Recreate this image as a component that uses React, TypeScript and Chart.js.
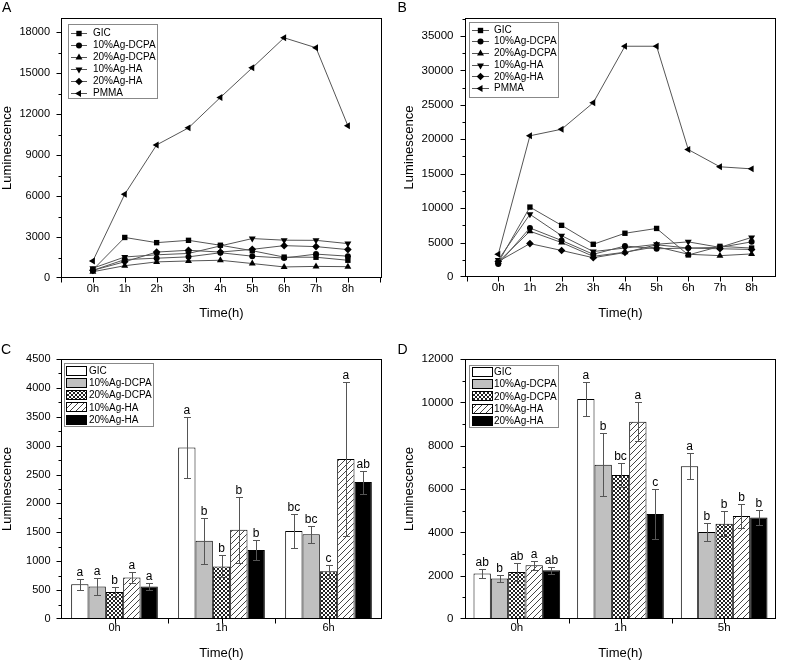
import React, { useEffect, useRef } from "react";
import { Chart, registerables } from "chart.js";
Chart.register(...registerables);

const FONT = '"Liberation Sans", Arial, Helvetica, sans-serif';
Chart.defaults.font.family = FONT;
Chart.defaults.color = "#000";

// ---------- Panel A / B data (line charts) ----------
const hourLabels = ["0h", "1h", "2h", "3h", "4h", "5h", "6h", "7h", "8h"];
const lineSeriesNames = ["GIC", "10%Ag-DCPA", "20%Ag-DCPA", "10%Ag-HA", "20%Ag-HA", "PMMA"];

const aGIC = [600, 2970, 2590, 2760, 2400, 2000, 1530, 1520, 1300];
const a10DCPA = [560, 1350, 1450, 1550, 1850, 1600, 1460, 1750, 1600];
const a20DCPA = [460, 900, 1180, 1250, 1300, 1060, 810, 850, 830];
const a10HA = [720, 1540, 1700, 1800, 2350, 2890, 2770, 2760, 2520];
const a20HA = [560, 1190, 1900, 2030, 1900, 2100, 2370, 2300, 2080];
const aPMMA = [1250, 6140, 9750, 11000, 13230, 15400, 17600, 16870, 11150];

const bGIC = [2100, 10150, 7500, 4750, 6350, 7050, 3200, 4450, 4200];
const b10DCPA = [1870, 7120, 5300, 3300, 4500, 4100, 4200, 4300, 5100];
const b20DCPA = [2170, 6650, 5000, 3000, 3600, 4400, 3300, 3100, 3350];
const b10HA = [2480, 9100, 6000, 3700, 4200, 4750, 5100, 4300, 5750];
const b20HA = [2250, 4850, 3850, 2800, 3550, 4680, 4200, 4100, 4000];
const bPMMA = [3300, 20500, 21450, 25300, 33500, 33500, 18500, 16000, 15700];

// ---------- Panel C / D data (bar charts) ----------
const barSeriesNames = ["GIC", "10%Ag-DCPA", "20%Ag-DCPA", "10%Ag-HA", "20%Ag-HA"];

const cCategories = ["0h", "1h", "6h"];
const cGIC = [603, 2970, 1525];
const c10DCPA = [563, 1355, 1466];
const c20DCPA = [466, 910, 825];
const c10HA = [718, 1546, 2770];
const c20HA = [563, 1195, 2370];
const cGICErr = [95, 530, 300];
const c10DCPAErr = [140, 400, 150];
const c20DCPAErr = [80, 190, 110];
const c10HAErr = [90, 570, 1340];
const c20HAErr = [57, 180, 200];
const cGICLetters = ["a", "a", "bc"];
const c10DCPALetters = ["a", "b", "bc"];
const c20DCPALetters = ["b", "b", "c"];
const c10HALetters = ["a", "b", "a"];
const c20HALetters = ["a", "b", "ab"];

const dCategories = ["0h", "1h", "5h"];
const dGIC = [2100, 10150, 7050];
const d10DCPA = [1870, 7120, 4020];
const d20DCPA = [2170, 6650, 4400];
const d10HA = [2480, 9100, 4750];
const d20HA = [2250, 4850, 4680];
const dGICErr = [200, 800, 600];
const d10DCPAErr = [150, 1460, 430];
const d20DCPAErr = [400, 560, 580];
const d10HAErr = [220, 900, 560];
const d20HAErr = [150, 1150, 330];
const dGICLetters = ["ab", "a", "a"];
const d10DCPALetters = ["b", "b", "b"];
const d20DCPALetters = ["ab", "bc", "b"];
const d10HALetters = ["a", "a", "b"];
const d20HALetters = ["ab", "c", "b"];

// ---------- styles ----------
const lineMarkers = [
  { style: "rect", rot: 0, r: 3.8 },
  { style: "circle", rot: 0, r: 3 },
  { style: "triangle", rot: 0, r: 4 },
  { style: "triangle", rot: 180, r: 4 },
  { style: "rectRot", rot: 0, r: 3.8 },
  { style: "triangle", rot: 270, r: 4 },
];

const W = 394;
const H = 331;

function drawMarker(ctx: CanvasRenderingContext2D, style: string, rotDeg: number, r: number, x: number, y: number) {
  ctx.beginPath();
  let rad = (rotDeg * Math.PI) / 180;
  if (style === "circle") {
    ctx.arc(x, y, r, 0, Math.PI * 2);
  } else if (style === "rect") {
    const s = Math.SQRT1_2 * r;
    ctx.rect(x - s, y - s, 2 * s, 2 * s);
  } else if (style === "rectRot") {
    ctx.moveTo(x, y - r);
    ctx.lineTo(x + r, y);
    ctx.lineTo(x, y + r);
    ctx.lineTo(x - r, y);
    ctx.closePath();
  } else {
    ctx.moveTo(x + Math.sin(rad) * r, y - Math.cos(rad) * r);
    rad += (2 * Math.PI) / 3;
    ctx.lineTo(x + Math.sin(rad) * r, y - Math.cos(rad) * r);
    rad += (2 * Math.PI) / 3;
    ctx.lineTo(x + Math.sin(rad) * r, y - Math.cos(rad) * r);
    ctx.closePath();
  }
  ctx.fill();
}

type LegendSpec = {
  kind: "line" | "bar";
  x: number; y: number; w: number; h: number;
  row0: number; rowH: number;
  sampleX: number; sampleW: number; swH: number; textX: number;
};

type PanelSpec = {
  letter: string; letterX: number; letterY: number;
  yTitleX: number; xTitleY: number;
  yMax: number; yMajor: number; yMinor: number;
  yLabelPad: number; tickFont: number;
  xKind: "linear" | "category";
  legend: LegendSpec;
  errors?: number[][];
  letters?: string[][];
};

function makePanelPlugin(spec: PanelSpec) {
  return {
    id: "panel" + spec.letter,
    afterDatasetsDraw(chart: any) {
      if (!spec.errors) return;
      const ctx: CanvasRenderingContext2D = chart.ctx;
      const ys = chart.scales.y;
      ctx.save();
      ctx.strokeStyle = "#555";
      ctx.lineWidth = 1;
      ctx.fillStyle = "#000";
      ctx.font = "12px " + FONT;
      ctx.textAlign = "center";
      ctx.textBaseline = "alphabetic";
      chart.data.datasets.forEach((ds: any, d: number) => {
        const meta = chart.getDatasetMeta(d);
        meta.data.forEach((el: any, i: number) => {
          const v = ds.data[i];
          const e = spec.errors![d][i];
          const x = Math.round(el.x) + 0.5;
          const yt = Math.round(ys.getPixelForValue(v + e)) + 0.5;
          const yb = Math.round(ys.getPixelForValue(v - e)) + 0.5;
          ctx.beginPath();
          ctx.moveTo(x, yt);
          ctx.lineTo(x, yb);
          ctx.moveTo(x - 3.5, yt);
          ctx.lineTo(x + 3.5, yt);
          ctx.moveTo(x - 3.5, yb);
          ctx.lineTo(x + 3.5, yb);
          ctx.stroke();
          if (spec.letters) ctx.fillText(spec.letters[d][i], el.x, yt - 3.5);
        });
      });
      ctx.restore();
    },
    afterDraw(chart: any) {
      const ctx: CanvasRenderingContext2D = chart.ctx;
      const ca = chart.chartArea;
      const xs = chart.scales.x;
      const ys = chart.scales.y;
      ctx.save();
      ctx.strokeStyle = "#000";
      ctx.lineWidth = 1;
      const L = Math.round(ca.left) + 0.5;
      const R = Math.round(ca.right) - 0.5;
      const T = Math.round(ca.top) + 0.5;
      const B = Math.round(ca.bottom) - 0.5;
      ctx.strokeRect(L, T, R - L, B - T);
      ctx.beginPath();
      // y ticks (major + minor) and major labels, positioned by the y scale
      const yLabels: { v: number; y: number }[] = [];
      for (let v = 0; v <= spec.yMax + 1e-6; v += spec.yMinor) {
        const major = Math.abs(v / spec.yMajor - Math.round(v / spec.yMajor)) < 1e-6;
        const len = major ? 5 : 3;
        const y = Math.min(B, Math.round(ys.getPixelForValue(v)) + 0.5);
        ctx.moveTo(L - len, y);
        ctx.lineTo(L, y);
        if (major) yLabels.push({ v, y: ys.getPixelForValue(v) });
      }
      // x ticks
      if (spec.xKind === "linear") {
        for (let i = Math.ceil(xs.min - 0.1); i <= Math.floor(xs.max); i++) {
          let x = Math.round(xs.getPixelForValue(i)) + 0.5;
          x = Math.max(L, Math.min(R, x));
          ctx.moveTo(x, B);
          ctx.lineTo(x, B + 5);
        }
      } else {
        const n = chart.data.labels.length;
        const cw = (ca.right - ca.left) / n;
        for (let i = 0; i < n; i++) {
          const cx = Math.round(xs.getPixelForValue(i)) + 0.5;
          ctx.moveTo(cx, B);
          ctx.lineTo(cx, B + 5);
          if (i > 0) {
            const bx = Math.round(ca.left + cw * i) + 0.5;
            ctx.moveTo(bx, B);
            ctx.lineTo(bx, B + 5);
          }
        }
      }
      ctx.stroke();

      ctx.fillStyle = "#000";
      ctx.font = spec.tickFont + "px " + FONT;
      ctx.textAlign = "right";
      ctx.textBaseline = "middle";
      yLabels.forEach((t) => ctx.fillText(String(Math.round(t.v)), ca.left - spec.yLabelPad, t.y));

      // legend
      const lg = spec.legend;
      ctx.strokeStyle = "#888";
      ctx.strokeRect(Math.round(lg.x) + 0.5, Math.round(lg.y) + 0.5, lg.w, lg.h);
      ctx.font = "10px " + FONT;
      ctx.textAlign = "left";
      ctx.textBaseline = "middle";
      chart.data.datasets.forEach((ds: any, k: number) => {
        const cy = lg.row0 + k * lg.rowH;
        if (lg.kind === "line") {
          ctx.strokeStyle = "#555";
          ctx.beginPath();
          ctx.moveTo(lg.sampleX, Math.round(cy) + 0.5);
          ctx.lineTo(lg.sampleX + lg.sampleW, Math.round(cy) + 0.5);
          ctx.stroke();
          ctx.fillStyle = "#000";
          const m = lineMarkers[k];
          drawMarker(ctx, m.style, m.rot, m.r, lg.sampleX + lg.sampleW / 2, Math.round(cy) + 0.5);
        } else {
          ctx.fillStyle = ds.backgroundColor;
          const sx = Math.round(lg.sampleX);
          const sy = Math.round(cy - lg.swH / 2);
          ctx.fillRect(sx, sy, lg.sampleW, lg.swH);
          ctx.strokeStyle = "#000";
          ctx.strokeRect(sx + 0.5, sy + 0.5, lg.sampleW - 1, lg.swH - 1);
        }
        ctx.fillStyle = "#000";
        ctx.fillText(ds.label, lg.textX, cy + 0.5);
      });

      // titles
      ctx.fillStyle = "#000";
      ctx.font = "13px " + FONT;
      ctx.textAlign = "center";
      ctx.textBaseline = "middle";
      ctx.fillText("Time(h)", (ca.left + ca.right) / 2, spec.xTitleY);
      ctx.save();
      ctx.translate(spec.yTitleX, (ca.top + ca.bottom) / 2);
      ctx.rotate(-Math.PI / 2);
      ctx.fillText("Luminescence", 0, 0);
      ctx.restore();
      ctx.font = "14px " + FONT;
      ctx.textAlign = "left";
      ctx.textBaseline = "alphabetic";
      ctx.fillText(spec.letter, spec.letterX, spec.letterY);
      ctx.restore();
    },
  };
}

type Box = { left: number; top: number; right: number; bottom: number };

function scaleOpts(spec: PanelSpec, box: Box, xPad: number) {
  const tickFont = spec.tickFont;
  const x: any =
    spec.xKind === "linear"
      ? {
          type: "linear",
          min: 0,
          max: 8,
          grid: { display: false, drawTicks: false },
          border: { display: false },
          afterBuildTicks: (s: any) => {
            s.ticks = hourLabels.map((_, i) => ({ value: i }));
          },
          ticks: {
            autoSkip: false,
            maxRotation: 0,
            padding: xPad,
            color: "#000",
            font: { size: tickFont, family: FONT },
            callback: (v: number) => {
              const r = Math.round(v);
              return r >= 0 && r < hourLabels.length ? hourLabels[r] : "";
            },
          },
          afterFit: (s: any) => {
            s.height = H - box.bottom;
          },
        }
      : {
          type: "category",
          offset: true,
          grid: { display: false, drawTicks: false, offset: true },
          border: { display: false },
          ticks: { autoSkip: false, maxRotation: 0, padding: xPad, color: "#000", font: { size: tickFont, family: FONT } },
          afterFit: (s: any) => {
            s.height = H - box.bottom;
          },
        };
  const y: any = {
    type: "linear",
    min: 0,
    max: spec.yMax,
    grid: { display: false, drawTicks: false },
    border: { display: false },
    ticks: { display: false },
    afterFit: (s: any) => {
      s.width = box.left;
    },
  };
  return { x, y };
}

function lineConfig(series: number[][], spec: PanelSpec, box: Box, xmin: number, xmax: number) {
  const plugin = makePanelPlugin(spec);
  const scales = scaleOpts(spec, box, 4);
  scales.x.min = xmin;
  scales.x.max = xmax;
  return {
    type: "line",
    data: {
      datasets: series.map((vals, k) => ({
        label: lineSeriesNames[k],
        data: vals.map((v, i) => ({ x: i, y: v })),
        borderColor: "#555",
        borderWidth: 1,
        pointStyle: lineMarkers[k].style,
        pointRotation: lineMarkers[k].rot,
        pointRadius: lineMarkers[k].r,
        pointBackgroundColor: "#000",
        pointBorderColor: "#000",
        pointBorderWidth: 0,
        tension: 0,
        fill: false,
      })),
    },
    options: {
      responsive: false,
      animation: false,
      devicePixelRatio: 1,
      events: [],
      layout: { padding: { left: 0, top: box.top, right: W - box.right, bottom: 0 } },
      plugins: { legend: { display: false }, tooltip: { enabled: false } },
      scales,
    },
    plugins: [plugin],
  };
}

function barConfig(cats: string[], series: number[][], fills: any[], spec: PanelSpec, box: Box, catPct: number) {
  const plugin = makePanelPlugin(spec);
  const scales = scaleOpts(spec, box, 2);
  return {
    type: "bar",
    data: {
      labels: cats,
      datasets: series.map((vals, k) => ({
        label: barSeriesNames[k],
        data: vals,
        backgroundColor: fills[k],
        borderColor: "#000",
        borderWidth: 1,
        categoryPercentage: catPct,
        barPercentage: 1,
      })),
    },
    options: {
      responsive: false,
      animation: false,
      devicePixelRatio: 1,
      events: [],
      layout: { padding: { left: 0, top: box.top, right: W - box.right, bottom: 0 } },
      plugins: { legend: { display: false }, tooltip: { enabled: false } },
      scales,
    },
    plugins: [plugin],
  };
}

function makeFills(ctx: CanvasRenderingContext2D) {
  const cross = document.createElement("canvas");
  cross.width = 4;
  cross.height = 4;
  const g1 = cross.getContext("2d")!;
  g1.fillStyle = "#fff";
  g1.fillRect(0, 0, 4, 4);
  g1.fillStyle = "#222";
  for (let i = 0; i < 4; i++) {
    g1.fillRect(i, i, 1, 1);
    g1.fillRect(3 - i, i, 1, 1);
  }
  const hatch = document.createElement("canvas");
  hatch.width = 6;
  hatch.height = 6;
  const g2 = hatch.getContext("2d")!;
  g2.fillStyle = "#fff";
  g2.fillRect(0, 0, 6, 6);
  g2.fillStyle = "#444";
  for (let i = 0; i < 6; i++) g2.fillRect(i, 5 - i, 1, 1);
  return [
    "#ffffff",
    "#c0c0c0",
    ctx.createPattern(cross, "repeat"),
    ctx.createPattern(hatch, "repeat"),
    "#000000",
  ];
}

const specA: PanelSpec = {
  letter: "A", letterX: 2, letterY: 12, yTitleX: 7, xTitleY: 313,
  yMax: 19050, yMajor: 3000, yMinor: 1500, yLabelPad: 11, tickFont: 11, xKind: "linear",
  legend: { kind: "line", x: 68, y: 24, w: 89, h: 74, row0: 32.5, rowH: 12, sampleX: 71, sampleW: 16, swH: 0, textX: 93 },
};
const boxA: Box = { left: 61, top: 18, right: 382, bottom: 278 };

const specB: PanelSpec = {
  letter: "B", letterX: 3.5, letterY: 12, yTitleX: 15.5, xTitleY: 313,
  yMax: 37600, yMajor: 5000, yMinor: 2500, yLabelPad: 11.5, tickFont: 11.5, xKind: "linear",
  legend: { kind: "line", x: 75, y: 22, w: 89, h: 75, row0: 29.5, rowH: 11.7, sampleX: 78, sampleW: 17, swH: 0, textX: 100 },
};
const boxB: Box = { left: 71, top: 18, right: 382, bottom: 277 };

const specC: PanelSpec = {
  letter: "C", letterX: 1, letterY: 22.5, yTitleX: 7, xTitleY: 322,
  yMax: 4500, yMajor: 500, yMinor: 250, yLabelPad: 10.5, tickFont: 11, xKind: "category",
  legend: { kind: "bar", x: 64, y: 32, w: 89, h: 63, row0: 39.5, rowH: 12.3, sampleX: 66, sampleW: 21, swH: 10, textX: 89 },
  errors: [cGICErr, c10DCPAErr, c20DCPAErr, c10HAErr, c20HAErr],
  letters: [cGICLetters, c10DCPALetters, c20DCPALetters, c10HALetters, c20HALetters],
};
const boxC: Box = { left: 61, top: 28, right: 382, bottom: 288 };

const specD: PanelSpec = {
  letter: "D", letterX: 3.5, letterY: 22.5, yTitleX: 15.5, xTitleY: 322,
  yMax: 12000, yMajor: 2000, yMinor: 1000, yLabelPad: 11.5, tickFont: 11.5, xKind: "category",
  legend: { kind: "bar", x: 75, y: 34, w: 89, h: 62, row0: 41, rowH: 12.2, sampleX: 78, sampleW: 21, swH: 10, textX: 100 },
  errors: [dGICErr, d10DCPAErr, d20DCPAErr, d10HAErr, d20HAErr],
  letters: [dGICLetters, d10DCPALetters, d20DCPALetters, d10HALetters, d20HALetters],
};
const boxD: Box = { left: 71, top: 28, right: 382, bottom: 288 };

function Panel({ which, left, top }: { which: string; left: number; top: number }) {
  const ref = useRef<HTMLCanvasElement>(null);
  useEffect(() => {
    const canvas = ref.current!;
    const ctx = canvas.getContext("2d")!;
    let cfg: any;
    if (which === "A") {
      cfg = lineConfig([aGIC, a10DCPA, a20DCPA, a10HA, a20HA, aPMMA], specA, boxA, -1, 9.07);
    } else if (which === "B") {
      cfg = lineConfig([bGIC, b10DCPA, b20DCPA, b10HA, b20HA, bPMMA], specB, boxB, -1.05, 8.77);
    } else if (which === "C") {
      cfg = barConfig(cCategories, [cGIC, c10DCPA, c20DCPA, c10HA, c20HA], makeFills(ctx), specC, boxC, 0.81);
    } else {
      cfg = barConfig(dCategories, [dGIC, d10DCPA, d20DCPA, d10HA, d20HA], makeFills(ctx), specD, boxD, 0.836);
    }
    const chart = new Chart(canvas, cfg);
    return () => chart.destroy();
  }, [which]);
  return (
    <canvas
      ref={ref}
      width={W}
      height={H}
      style={{ position: "absolute", left, top, width: W, height: H }}
    />
  );
}

export default function App() {
  return (
    <div style={{ position: "absolute", left: 0, top: 0, width: 788, height: 662, background: "#fff" }}>
      <Panel which="A" left={0} top={0} />
      <Panel which="B" left={394} top={0} />
      <Panel which="C" left={0} top={331} />
      <Panel which="D" left={394} top={331} />
    </div>
  );
}
